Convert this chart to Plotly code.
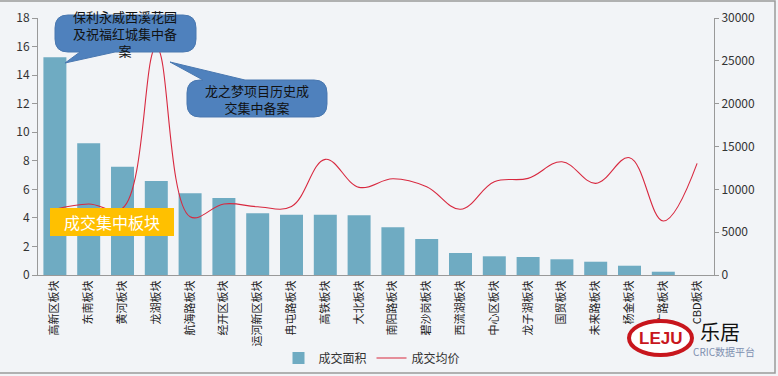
import plotly.graph_objects as go

categories = ["高新区板块", "东南板块", "黄河板块", "龙湖板块", "航海路板块", "经开区板块",
              "运河新区板块", "冉屯路板块", "高铁板块", "大北板块", "南阳路板块", "碧沙岗板块",
              "西流湖板块", "中心区板块", "龙子湖板块", "国贸板块", "未来路板块", "杨金板块",
              "京广路板块", "CBD板块"]
area = [15.25, 9.22, 7.59, 6.58, 5.72, 5.39, 4.32, 4.22, 4.22, 4.18, 3.34, 2.52,
        1.54, 1.31, 1.26, 1.10, 0.93, 0.65, 0.23, 0]
price = [7670, 8290, 7800, 26600, 6800, 8290, 7970, 8000, 13500, 10230, 11240, 10300,
         7670, 10890, 11280, 13220, 10700, 13690, 6300, 13030]

W, H = 778, 376
L, R, T, B = 38, 714, 18, 275


def px(x):
    return (x - L) / (R - L)


def py(y):
    return (B - y) / (B - T)


def P(x, y):
    return f"{px(x):.5f},{py(y):.5f}"


fig = go.Figure()
fig.add_trace(go.Bar(x=categories, y=area, name="成交面积", marker=dict(color="#6FABC2", line=dict(width=0)),
                     yaxis="y"))
fig.add_trace(go.Scatter(x=categories, y=price, name="成交均价", mode="lines",
                         line=dict(color="#D8283F", width=1.1, shape="spline", smoothing=1.1),
                         yaxis="y2"))

shapes = []
# frame
shapes.append(dict(type="rect", xref="paper", yref="paper", x0=px(-2), y0=py(1), x1=px(775), y1=py(373),
                   line=dict(color="#9a9a9a", width=1.5), fillcolor="rgba(0,0,0,0)", layer="below"))

r = 13
# callout 1: tail on bottom edge
x0, y0, x1, y1 = 55, 15, 196, 52
path1 = (f"M{P(x0+r,y0)} L{P(x1-r,y0)} Q{P(x1,y0)} {P(x1,y0+r)} L{P(x1,y1-r)} Q{P(x1,y1)} {P(x1-r,y1)} "
         f"L{P(115,y1)} L{P(65,63)} L{P(80,y1)} L{P(x0+r,y1)} Q{P(x0,y1)} {P(x0,y1-r)} L{P(x0,y0+r)} "
         f"Q{P(x0,y0)} {P(x0+r,y0)} Z")
shapes.append(dict(type="path", xref="paper", yref="paper", path=path1, fillcolor="#4F81BD",
                   line=dict(color="#4A78B0", width=1), layer="above"))
# callout 2: tail on top edge
x0, y0, x1, y1 = 187, 80, 327, 117
path2 = (f"M{P(x0+r,y0)} L{P(203,y0)} L{P(170,62)} L{P(245,y0)} L{P(x1-r,y0)} Q{P(x1,y0)} {P(x1,y0+r)} "
         f"L{P(x1,y1-r)} Q{P(x1,y1)} {P(x1-r,y1)} L{P(x0+r,y1)} Q{P(x0,y1)} {P(x0,y1-r)} L{P(x0,y0+r)} "
         f"Q{P(x0,y0)} {P(x0+r,y0)} Z")
shapes.append(dict(type="path", xref="paper", yref="paper", path=path2, fillcolor="#4F81BD",
                   line=dict(color="#4A78B0", width=1), layer="above"))
# yellow box
shapes.append(dict(type="rect", xref="paper", yref="paper", x0=px(50), y0=py(236), x1=px(174), y1=py(208),
                   fillcolor="#FFC000", line=dict(width=0), layer="above"))
# logo ring
shapes.append(dict(type="circle", xref="paper", yref="paper", x0=px(629), y0=py(355), x1=px(692), y1=py(321),
                   fillcolor="white", line=dict(color="#C8161D", width=4), layer="above"))


def ann(x, y, text, size, color, family=None):
    f = dict(size=size, color=color)
    if family:
        f["family"] = family
    return dict(x=px(x), y=py(y), xref="paper", yref="paper", showarrow=False, xanchor="center",
                yanchor="middle", text=text, font=f, align="center")


annotations = [
    ann(125, 33, "保利永威西溪花园<br>及祝福红城集中备<br>案", 13, "#111"),
    ann(257, 99, "龙之梦项目历史成<br>交集中备案", 13, "#111"),
    ann(112, 222, "成交集中板块", 16, "white"),
    ann(660, 338, "<b>LEJU</b>", 17, "#C8161D", "Liberation Sans"),
    ann(720, 331, "乐居", 20, "#111"),
    ann(724, 351, "CRIC数据平台", 10, "#8090B0"),
]

fig.update_layout(
    width=W, height=H,
    margin=dict(l=L, r=W - R, t=T, b=H - B, autoexpand=False),
    paper_bgcolor="#F2F4F7", plot_bgcolor="#F2F4F7",
    font=dict(family="Noto Sans CJK SC, sans-serif", size=12, color="#333"),
    bargap=0.32,
    showlegend=True,
    legend=dict(orientation="h", x=px(372), xanchor="center", y=py(358), yanchor="middle",
                font=dict(size=12, color="#333"), bgcolor="rgba(0,0,0,0)"),
    xaxis=dict(tickangle=-90, showline=True, linecolor="#999", linewidth=1, ticks="",
               tickfont=dict(size=11, color="#222"), showgrid=False, range=[-0.5, 19.5], automargin=False),
    yaxis=dict(range=[0, 18], dtick=2, showline=True, linecolor="#999", ticks="outside", ticklen=5,
               tickcolor="#999", showgrid=False, zeroline=False, tickfont=dict(size=12, color="#333"),
               tickformat="d", automargin=False),
    yaxis2=dict(range=[0, 30000], dtick=5000, overlaying="y", side="right", showline=True, linecolor="#999",
                ticks="outside", ticklen=4, tickcolor="#999", showgrid=False, zeroline=False,
                tickfont=dict(size=12, color="#333"), tickformat="d", automargin=False),
    shapes=shapes,
    annotations=annotations,
)

fig.write_html("out.html", config={"displayModeBar": False},
               post_script="document.body.style.margin='0';document.body.style.background='#F2F4F7';")
